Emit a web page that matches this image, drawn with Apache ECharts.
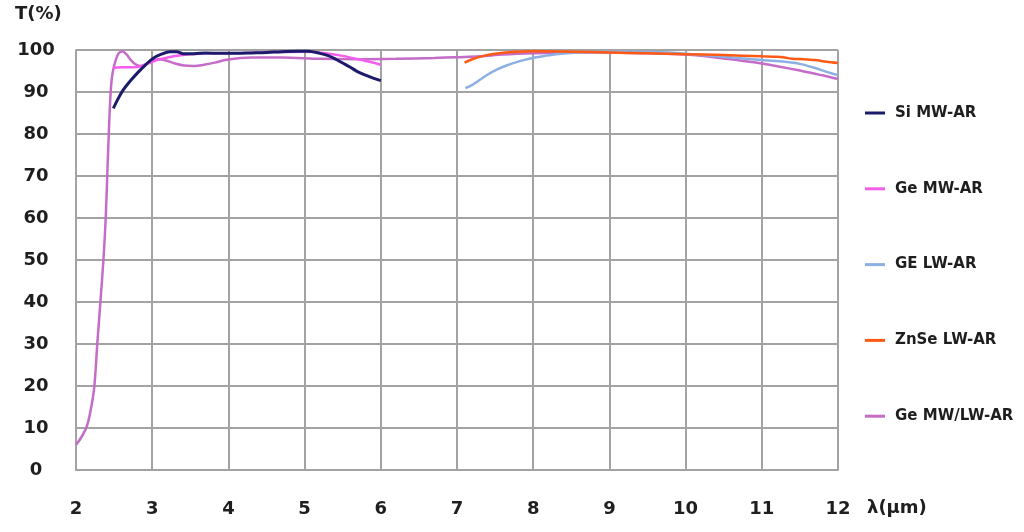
<!DOCTYPE html>
<html>
<head>
<meta charset="utf-8">
<script src="https://cdn.jsdelivr.net/npm/echarts@6/dist/echarts.min.js"></script>
<style>html,body{margin:0;padding:0;background:#fff;}#c{width:1024px;height:532px;}</style>
</head>
<body>
<div id="c"></div>
<script>
var seriesNames = ['Si MW-AR', 'Ge MW-AR', 'GE LW-AR', 'ZnSe LW-AR', 'Ge MW/LW-AR'];
var xTicks = [2, 12, 1];
var yTicks = [0, 100, 10];

var siMW = [[2.49,86.1],[2.55,88.3],[2.62,90.5],[2.72,92.8],[2.82,94.8],[2.92,96.6],[3.01,98],[3.12,99],[3.23,99.6],[3.32,99.6],[3.41,99.1],[3.55,99.1],[3.7,99.3],[3.9,99.2],[4.1,99.2],[4.3,99.3],[4.5,99.4],[4.7,99.6],[4.9,99.7],[5.05,99.7],[5.2,99.2],[5.3,98.7],[5.4,97.9],[5.5,96.9],[5.6,95.9],[5.7,94.8],[5.8,94],[5.9,93.3],[6.0,92.7]];
var geMW = [[2.49,95.8],[2.6,95.9],[2.75,95.9],[2.85,96.1],[2.95,96.8],[3.06,97.6],[3.2,98.2],[3.35,98.7],[3.5,99],[3.8,99.2],[4.2,99.3],[4.6,99.5],[5.0,99.6],[5.25,99.3],[5.5,98.6],[5.75,97.6],[6.0,96.5]];
var geLW = [[7.11,90.9],[7.2,91.7],[7.3,92.9],[7.4,94.1],[7.52,95.3],[7.65,96.3],[7.78,97.1],[7.9,97.7],[8.02,98.2],[8.15,98.6],[8.3,99],[8.5,99.3],[8.8,99.5],[9.2,99.6],[9.6,99.5],[10,99.1],[10.5,98.4],[11,97.6],[11.3,97.2],[11.5,96.7],[11.7,95.7],[11.85,94.8],[12,94]];
var znseLW = [[7.1,97],[7.2,97.8],[7.35,98.6],[7.5,99.1],[7.65,99.4],[7.8,99.6],[8,99.7],[8.5,99.6],[9,99.4],[9.5,99.2],[10,99],[10.5,98.8],[11,98.5],[11.2,98.4],[11.3,98.2],[11.4,97.9],[11.55,97.8],[11.7,97.6],[11.85,97.2],[12,96.9]];
var geMWLW = [[2.0,6],[2.07,7.8],[2.14,10.3],[2.19,14],[2.24,19.8],[2.28,30.2],[2.32,40],[2.36,50],[2.39,60],[2.41,70],[2.43,80],[2.455,90],[2.48,94.5],[2.52,97.5],[2.56,99.2],[2.61,99.7],[2.66,99],[2.72,97.6],[2.78,96.6],[2.84,96.2],[2.92,96.6],[3.0,97.4],[3.08,97.8],[3.18,97.5],[3.3,96.8],[3.42,96.3],[3.54,96.2],[3.68,96.5],[3.82,97],[3.98,97.7],[4.3,98.2],[4.7,98.2],[5.2,97.9],[5.7,97.8],[6.2,97.9],[6.7,98.1],[7.0,98.3],[7.3,98.5],[7.6,98.9],[8.0,99.2],[8.5,99.4],[9.0,99.4],[9.5,99.2],[10,98.9],[10.5,98],[11,96.8],[11.5,95.1],[12,93.1]];

var colors = ['#1c1a6b', '#f45ded', '#8db0e4', '#ff5a14', '#c46cc8'];
var datasets = [siMW, geMW, geLW, znseLW, geMWLW];
var widths = [3, 2.5, 2.5, 2.5, 2.5];
var FONT = 'DejaVu Sans';
var txt = {fontFamily: FONT, fontSize: 18, fontWeight: 'bold', color: '#1e1e1e'};

var chart = echarts.init(document.getElementById('c'), null, {renderer: 'canvas'});
var series = seriesNames.map(function (n, i) {
  return {
    name: n, type: 'line', data: datasets[i], showSymbol: false, symbol: 'none',
    smooth: 0.3, lineStyle: {color: colors[i], width: widths[i]}, itemStyle: {color: colors[i]},
    z: [6, 5, 3, 4, 2][i]
  };
});
chart.setOption({
  animation: false,
  backgroundColor: '#fff',
  title: [
    {text: 'T(%)', left: 15, top: 5, padding: 0, textStyle: txt},
    {text: 'λ(µm)', left: 867, top: 499, padding: 0, textStyle: txt}
  ],
  grid: {left: 76, right: 186, top: 50, bottom: 62},
  legend: {
    orient: 'vertical', left: 865, top: 104, padding: 0, itemGap: 57.8,
    icon: 'rect', itemWidth: 20, itemHeight: 3,
    textStyle: {fontFamily: FONT, fontSize: 15, fontWeight: 'bold', color: '#1e1e1e', lineHeight: 18, padding: [0,0,0,5]},
    data: seriesNames
  },
  xAxis: {
    type: 'value', min: xTicks[0], max: xTicks[1], interval: xTicks[2],
    axisLine: {show: true, lineStyle: {color: '#a3a3a3', width: 2}},
    axisTick: {show: false},
    axisLabel: Object.assign({margin: 30}, txt),
    splitLine: {show: true, lineStyle: {color: '#a3a3a3', width: 2}}
  },
  yAxis: {
    type: 'value', min: yTicks[0], max: yTicks[1], interval: yTicks[2],
    axisLine: {show: true, lineStyle: {color: '#a3a3a3', width: 2}},
    axisTick: {show: false},
    axisLabel: Object.assign({margin: 40, align: 'center'}, txt),
    splitLine: {show: true, lineStyle: {color: '#a3a3a3', width: 2}}
  },
  series: series
});
</script>
</body>
</html>
